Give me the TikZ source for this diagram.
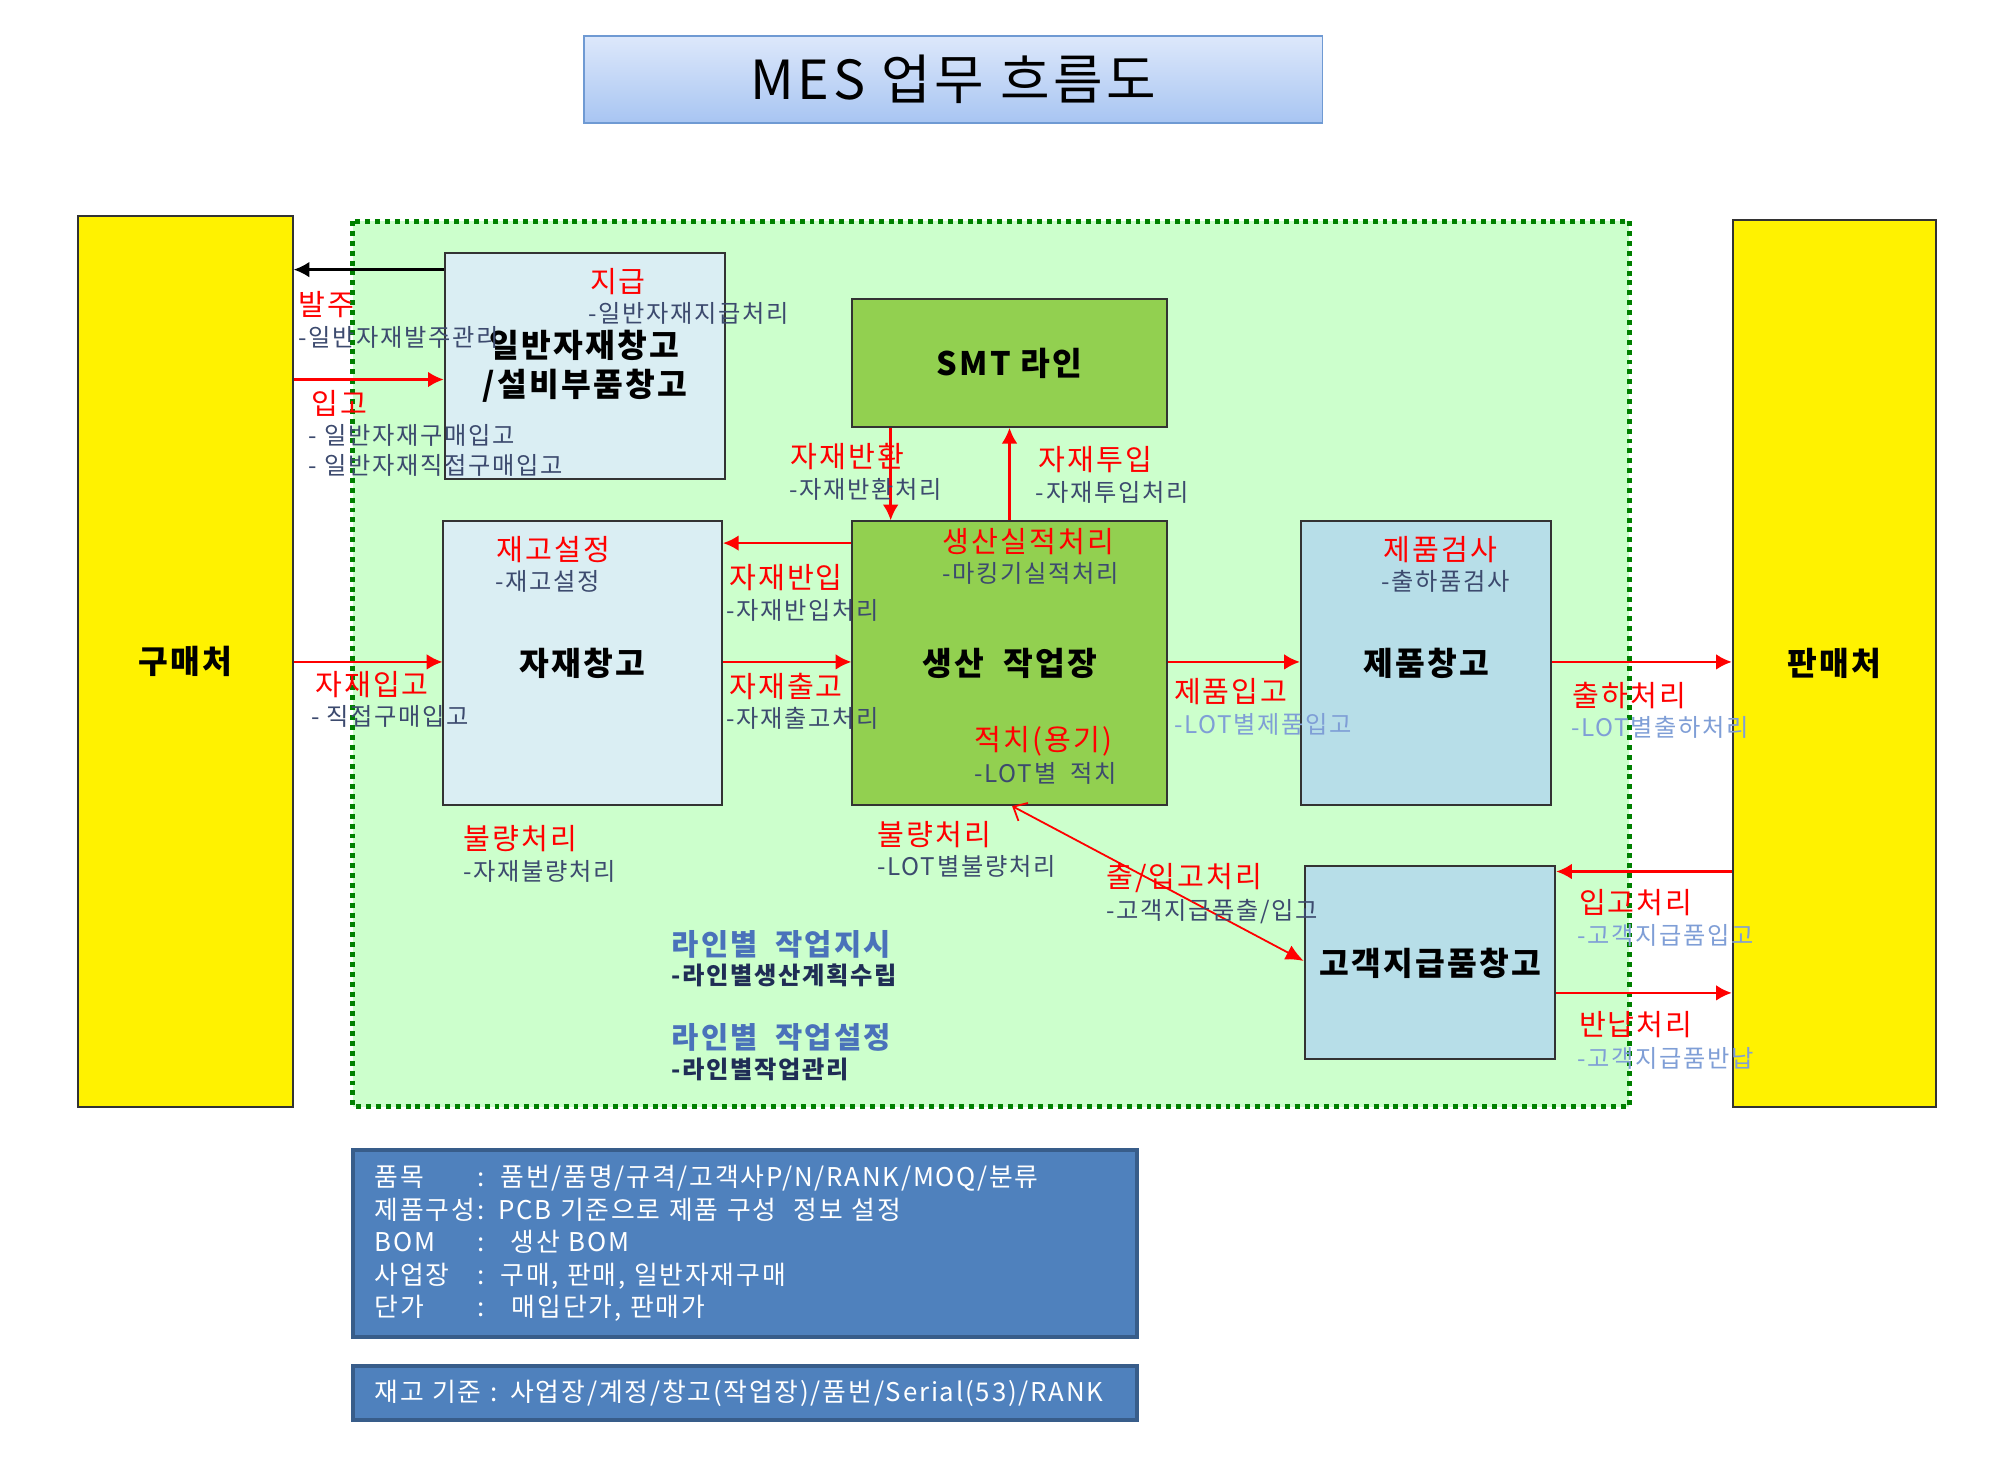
\documentclass[tikz,border=0pt]{standalone}
\usepackage{fontspec}
\newfontfamily\kr{Noto Sans CJK KR}[LetterSpace=7]
\usetikzlibrary{arrows.meta}
\definecolor{boxline}{HTML}{333333}
\definecolor{zonefill}{HTML}{CCFFCC}
\definecolor{zoneline}{HTML}{008000}
\definecolor{paleblue}{HTML}{DAEEF3}
\definecolor{midblue}{HTML}{B7DEE8}
\definecolor{linegreen}{HTML}{92D050}
\definecolor{subdark}{HTML}{3C4A6E}
\definecolor{sublight}{HTML}{7F9ED6}
\definecolor{planblue}{HTML}{4A72BA}
\definecolor{plannavy}{HTML}{1F2D55}
\definecolor{infofill}{HTML}{4F81BD}
\definecolor{infoline}{HTML}{385D8A}

\begin{document}
\begin{tikzpicture}[x=0.02cm, y=-0.02cm, >={Latex[length=7pt,width=7pt]}, thick,
    box/.style={draw=boxline, line width=0.9pt, inner sep=0pt, align=center,
      font=\kr\fontsize{14.4}{17.6}\selectfont\bfseries},
    ttl/.style={anchor=west, inner sep=0pt, text=red, font=\kr\fontsize{13}{15}\selectfont},
    sub/.style={anchor=west, inner sep=0pt, text=subdark, font=\kr\fontsize{10.8}{12.5}\selectfont},
    subl/.style={sub, text=sublight},
    plan/.style={anchor=west, inner sep=0pt, text=planblue, font=\kr\fontsize{13.2}{15}\selectfont\bfseries},
    plansub/.style={anchor=west, inner sep=0pt, text=plannavy, font=\kr\fontsize{10.8}{12.5}\selectfont\bfseries},
    flow/.style={->, red, line width=1.1pt},
    infobox/.style={draw=infoline, fill=infofill, line width=1.8pt, text=white, inner xsep=0.34cm,
      minimum width=12.28cm, text width=11.6cm, align=left, font=\kr\fontsize{11.5}{14.5}\selectfont}]
    \useasboundingbox (0,0) rectangle (1569,1141);
    % title
    \node [draw={rgb,255:red,111;green,154;blue,211}, line width=0.8pt, top color={rgb,255:red,221;green,232;blue,251},
      bottom color={rgb,255:red,168;green,197;blue,242}, minimum width=11.56cm, minimum height=1.36cm,
      font=\kr\fontsize{24}{28}\selectfont] (title) at (746,62) {MES\ 업무\ 흐름도};
    % work area
    \draw [fill=zonefill, draw=zoneline, line width=2.2pt, dash pattern=on 2.2pt off 2.2pt] (276,173) rectangle (1275,866);
    % boxes
    \node [box, fill=yellow, minimum width=3.36cm, minimum height=13.94cm] (buy) at (145,517.5) {구매처};
    \node [box, fill=yellow, minimum width=3.18cm, minimum height=13.88cm] (sell) at (1435.5,519) {판매처};
    \node [box, fill=paleblue, minimum width=4.38cm, minimum height=3.54cm] (gen) at (457.5,286.5) {일반자재창고\\/설비부품창고};
    \node [box, fill=linegreen, minimum width=4.92cm, minimum height=2cm] (smt) at (790,284) {SMT 라인};
    \node [box, fill=paleblue, minimum width=4.36cm, minimum height=4.44cm] (mat) at (456,519) {자재창고};
    \node [box, fill=linegreen, minimum width=4.92cm, minimum height=4.44cm] (prod) at (790,519) {생산\ \ 작업장};
    \node [box, fill=midblue, minimum width=3.92cm, minimum height=4.44cm] (fin) at (1116,519) {제품창고};
    \node [box, fill=midblue, minimum width=3.92cm, minimum height=3.02cm] (cust) at (1119,753.5) {고객지급품창고};
    % connectors
    \draw [->, black, line width=1.1pt] (gen.west |- 0,211) -- (buy.east |- 0,211);
    \draw [flow] (buy.east |- 0,297) -- (gen.west |- 0,297);
    \draw [flow] (buy.east |- 0,518) -- (mat.west |- 0,518);
    \draw [flow] (prod.west |- 0,425) -- (mat.east |- 0,425);
    \draw [flow] (mat.east |- 0,518) -- (prod.west |- 0,518);
    \draw [flow] (smt.south -| 697,0) -- (prod.north -| 697,0);
    \draw [flow] (prod.north -| 790,0) -- (smt.south -| 790,0);
    \draw [flow] (prod.east |- 0,518) -- (fin.west |- 0,518);
    \draw [flow] (fin.east |- 0,518) -- (sell.west |- 0,518);
    \draw [red, line width=0.8pt, {Straight Barb[length=5pt,width=9pt]}-{Latex[length=8pt,width=7pt]}] (prod.south -| 792,0) -- (cust.west |- 0,752);
    \draw [flow] (sell.west |- 0,682) -- (cust.east |- 0,682);
    \draw [flow] (cust.east |- 0,777) -- (sell.west |- 0,777);
    % labels
    \node [ttl] (balju) at (233,238) {발주};
    \node [sub] (baljuS) at (233,264) {-일반자재발주관리};
    \node [ttl] (jigeup) at (461,220) {지급};
    \node [sub] (jigeupS) at (460,245) {-일반자재지급처리};
    \node [ttl] (ipgo) at (243,316) {입고};
    \node [sub] (ipgoS) at (241,341) {-\ 일반자재구매입고};
    \node [sub] (ipgoT) at (241,364) {-\ 일반자재직접구매입고};
    \node [ttl] (banhwan) at (618,357) {자재반환};
    \node [sub] (banhwanS) at (617,383) {-자재반환처리};
    \node [ttl] (tuip) at (812,360) {자재투입};
    \node [sub] (tuipS) at (810,385) {-자재투입처리};
    \node [ttl] (jaego) at (388,430) {재고설정};
    \node [sub] (jaegoS) at (387,455) {-재고설정};
    \node [ttl] (silsjeok) at (737,424) {생산실적처리};
    \node [sub] (silsjeokS) at (737,449) {-마킹기실적처리};
    \node [ttl] (geomsa) at (1082,430) {제품검사};
    \node [sub] (geomsaS) at (1080,455) {-출하품검사};
    \node [ttl] (banip) at (570,452) {자재반입};
    \node [sub] (banipS) at (568,478) {-자재반입처리};
    \node [ttl] (matin) at (246,536) {자재입고};
    \node [sub] (matinS) at (243,561) {-\ 직접구매입고};
    \node [ttl] (matout) at (570,537) {자재출고};
    \node [sub] (matoutS) at (568,562) {-자재출고처리};
    \node [ttl] (finin) at (918,541) {제품입고};
    \node [subl] (fininS) at (918,567) {-LOT별제품입고};
    \node [ttl] (ship) at (1230,544) {출하처리};
    \node [subl] (shipS) at (1229,569) {-LOT별출하처리};
    \node [ttl] (stack) at (762,580) {적치(용기)};
    \node [sub] (stackS) at (762,605) {-LOT별\ \ 적치};
    \node [ttl] (badmat) at (362,656) {불량처리};
    \node [sub] (badmatS) at (362,682) {-자재불량처리};
    \node [ttl] (badlot) at (686,653) {불량처리};
    \node [sub] (badlotS) at (686,678) {-LOT별불량처리};
    \node [ttl] (custio) at (865,687) {출/입고처리};
    \node [sub] (custioS) at (865,713) {-고객지급품출/입고};
    \node [ttl] (custin) at (1235,706) {입고처리};
    \node [subl] (custinS) at (1234,732) {-고객지급품입고};
    \node [ttl] (custret) at (1235,802) {반납처리};
    \node [subl] (custretS) at (1234,828) {-고객지급품반납};
    \node [plan] (order) at (525,739) {라인별\ \ 작업지시};
    \node [plansub] (orderS) at (525,763) {-라인별생산계획수립};
    \node [plan] (setup) at (525,812) {라인별\ \ 작업설정};
    \node [plansub] (setupS) at (525,837) {-라인별작업관리};
    % master data
    \node [infobox, minimum height=2.92cm] (info) at (583,973) {%
      \makebox[1.62cm][l]{품목}:\hspace{0.24cm}품번/품명/규격/고객사P/N/RANK/MOQ/분류\\
      \makebox[1.62cm][l]{제품구성}: PCB 기준으로 제품 구성\ \ 정보 설정\\
      \makebox[1.62cm][l]{BOM}:\hspace{0.4cm}생산 BOM\\
      \makebox[1.62cm][l]{사업장}:\hspace{0.24cm}구매, 판매, 일반자재구매\\
      \makebox[1.62cm][l]{단가}:\hspace{0.42cm}매입단가, 판매가};
    \node [infobox, minimum height=0.84cm] (stock) at (583,1090) {재고 기준 : 사업장/계정/창고(작업장)/품번/Serial(53)/RANK};
\end{tikzpicture}
\end{document}
